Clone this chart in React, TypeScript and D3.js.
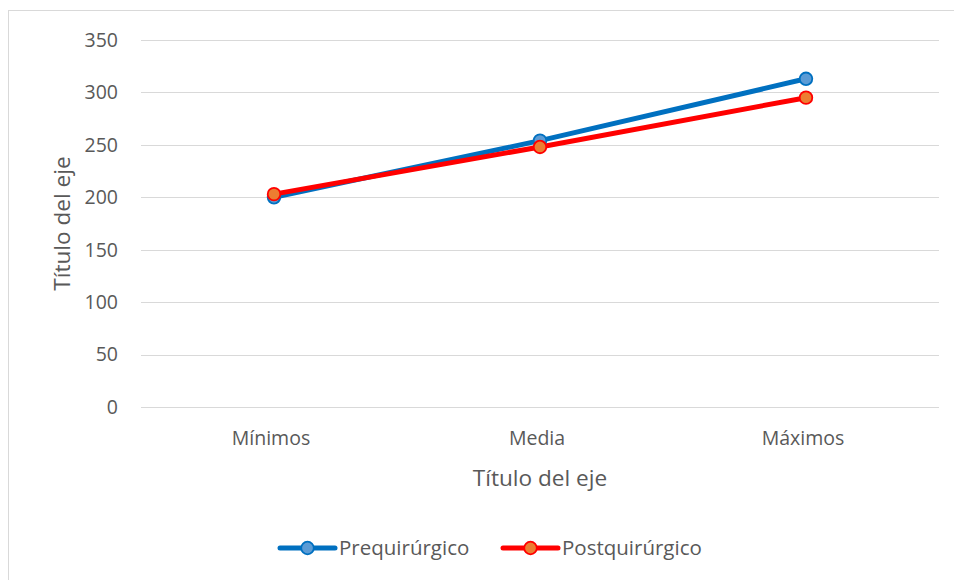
import React from "react";
import * as d3 from "d3";

const categories = ["Mínimos", "Media", "Máximos"];
const seriesNames = ["Prequirúrgico", "Postquirúrgico"];
const preValues = [200, 254, 313];
const postValues = [203, 248, 295];
const yTicks = [0, 50, 100, 150, 200, 250, 300, 350];
const lineColors = ["#0070C0", "#FF0000"];
const markerFills = ["#5B9BD5", "#ED7D31"];

const W = 954;
const H = 580;
const plot = { left: 141, right: 939, top: 40, bottom: 407 };
const font = "'Open Sans', Lato, sans-serif";
const textColor = "#595959";

export default function App() {
  const x = d3.scaleBand<string>().domain(categories).range([plot.left, plot.right]);
  const y = d3.scaleLinear().domain([0, 350]).range([plot.bottom, plot.top]);
  const cx = (c: string) => (x(c) as number) + x.bandwidth() / 2;
  const line = d3
    .line<number>()
    .x((_, i) => cx(categories[i]))
    .y((d) => y(d));
  const series = [preValues, postValues];

  const legendItems = [
    { x0: 280, name: seriesNames[0], i: 0 },
    { x0: 503, name: seriesNames[1], i: 1 },
  ];

  return (
    <svg
      width={W}
      height={H}
      style={{ position: "absolute", left: 0, top: 0, background: "#fff" }}
      fontFamily={font}
    >
      <rect x={8.5} y={10.5} width={W + 20} height={H + 20} fill="#fff" stroke="#d9d9d9" strokeWidth={1} />
      {yTicks.map((t) => (
        <g key={t}>
          <line x1={plot.left} x2={plot.right} y1={Math.round(y(t)) + 0.5} y2={Math.round(y(t)) + 0.5} stroke="#d9d9d9" strokeWidth={1} />
          <text x={118} y={y(t)} dy="0.35em" textAnchor="end" fontSize={19.5} fill={textColor}>
            {t}
          </text>
        </g>
      ))}
      {categories.map((c) => (
        <text key={c} x={cx(c) - 3} y={438} dy="0.35em" textAnchor="middle" fontSize={19.5} fill={textColor}>
          {c}
        </text>
      ))}
      <text x={540} y={478} dy="0.35em" textAnchor="middle" fontSize={22.6} fill={textColor}>
        Título del eje
      </text>
      <text
        transform={`translate(62,${(plot.top + plot.bottom) / 2}) rotate(-90)`}
        dy="0.35em"
        textAnchor="middle"
        fontSize={22.6}
        fill={textColor}
      >
        Título del eje
      </text>
      {series.map((s, i) => (
        <path key={i} d={line(s) || ""} fill="none" stroke={lineColors[i]} strokeWidth={5} strokeLinecap="round" strokeLinejoin="round" />
      ))}
      {series.map((s, i) => (
        <g key={"m" + i}>
          {s.map((v, j) => (
            <circle key={j} cx={cx(categories[j])} cy={y(v)} r={6.3} fill={markerFills[i]} stroke={lineColors[i]} strokeWidth={1.8} />
          ))}
        </g>
      ))}
      {legendItems.map((it) => (
        <g key={it.name}>
          <line x1={it.x0} x2={it.x0 + 55} y1={548} y2={548} stroke={lineColors[it.i]} strokeWidth={5} strokeLinecap="round" />
          <circle cx={it.x0 + 27.5} cy={548} r={6.3} fill={markerFills[it.i]} stroke={lineColors[it.i]} strokeWidth={1.8} />
          <text x={it.x0 + 59} y={548} dy="0.35em" fontSize={20.5} fill={textColor}>
            {it.name}
          </text>
        </g>
      ))}
    </svg>
  );
}
